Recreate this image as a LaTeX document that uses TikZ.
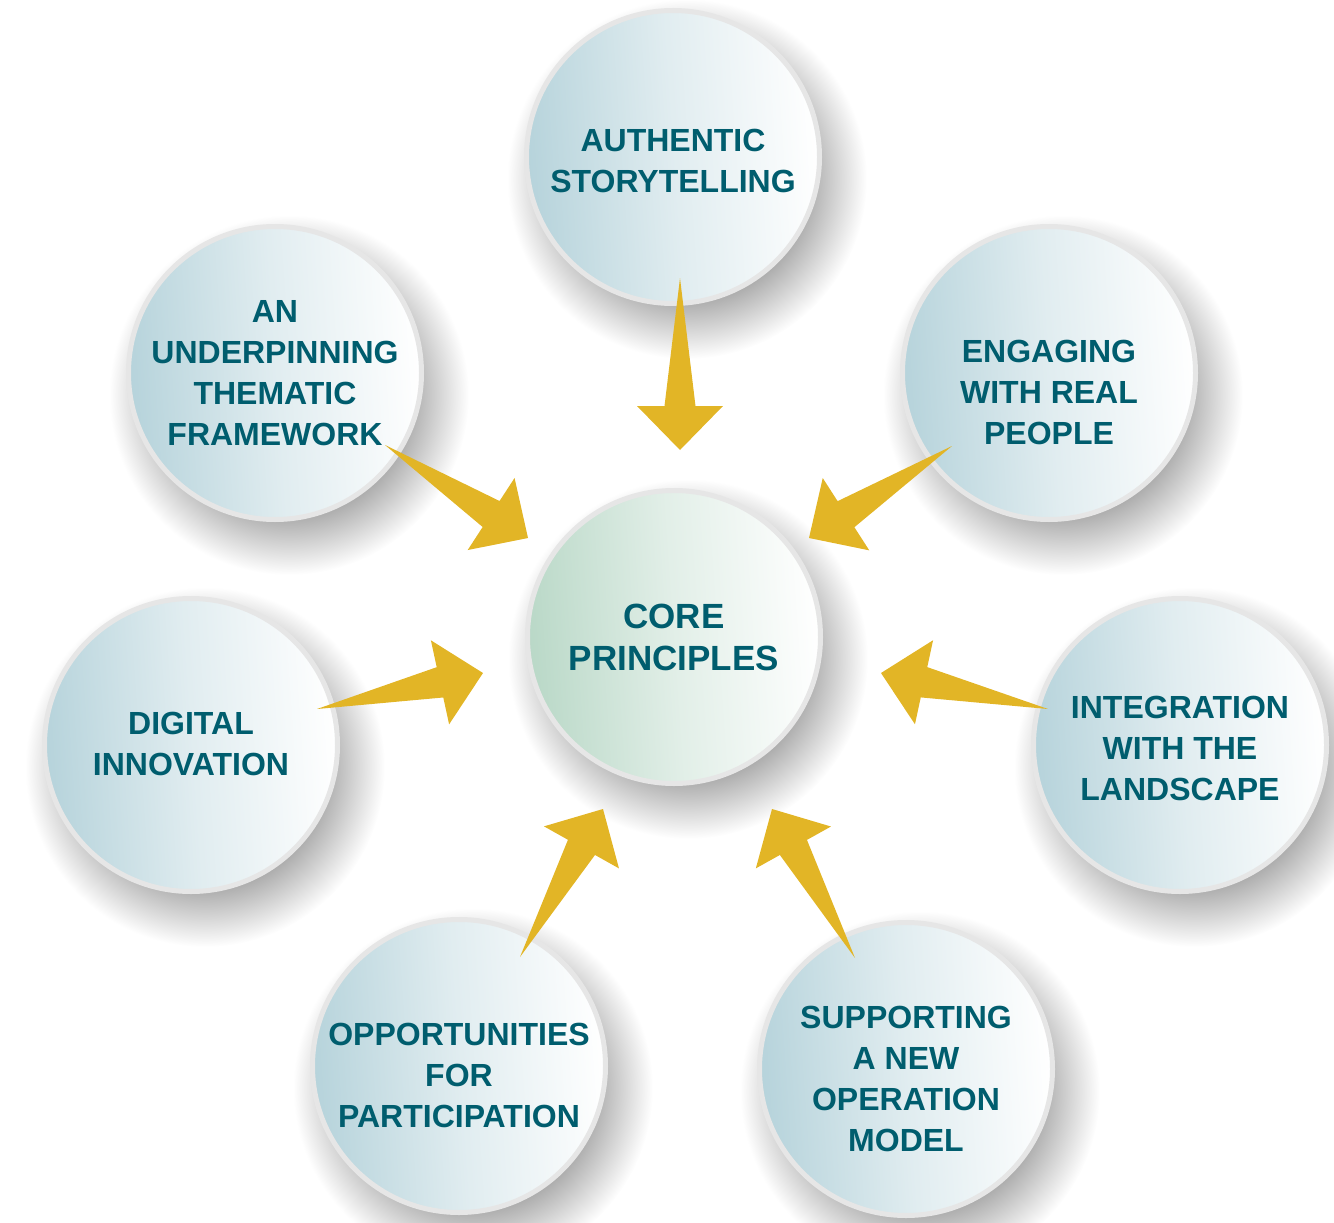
\documentclass[tikz,border=0pt]{standalone}
\usepackage{fontspec}
\setmainfont{Liberation Sans}
\usepackage{tikz}
\usetikzlibrary{calc}
\definecolor{cpteal}{HTML}{005D6E}
\definecolor{cpgold}{HTML}{E2B526}
\definecolor{cpring}{HTML}{E6E6E6}
\definecolor{cpblue}{HTML}{B6D3DB}
\definecolor{cpgreen}{HTML}{B9D8C7}
\pgfdeclareradialshading{cpshadow}{\pgfpoint{0bp}{0bp}}{color(0bp)=(black!32); color(17bp)=(black!32); color(25bp)=(white); color(50bp)=(white)}
\tikzset{
  bubble/.style={circle,draw=cpring,line width=5pt,minimum size=293pt,inner sep=0pt,top color=white,bottom color=cpblue,middle color=cpblue!42!white,shading angle=-86},
  corebub/.style={bubble,top color=white,bottom color=cpgreen,middle color=cpgreen!42!white,shading angle=-86},
  bubtxt/.style={font=\bfseries\fontsize{32}{41}\selectfont,text=cpteal,align=center,inner sep=0pt},
  coretxt/.style={font=\bfseries\fontsize{35}{42}\selectfont,text=cpteal,align=center},
  softshadow/.style={shading=cpshadow},
  gold/.style={fill=cpgold,draw=none},
}

\begin{document}
\begin{tikzpicture}[x=1pt,y=-1pt]
\useasboundingbox (0,0) rectangle (1334,1223);
% centre
\shade[softshadow] (688,659) circle (180pt);
\node[corebub,coretxt] (core) at (674,637) {CORE\\PRINCIPLES};
% outer ring
\foreach \n/\x/\y/\dy/\txt in {ast/673/157/-4/{AUTHENTIC\\STORYTELLING},
    eng/1049/373/-19/{ENGAGING\\WITH REAL\\PEOPLE},
    int/1180/745/-3/{INTEGRATION\\WITH THE\\LANDSCAPE},
    sup/906/1069/-10/{SUPPORTING\\A NEW\\OPERATION\\MODEL},
    opp/459/1066/-9/{OPPORTUNITIES\\FOR\\PARTICIPATION},
    dig/191/745/1/{DIGITAL\\INNOVATION},
    frm/275/373/0/{AN\\UNDERPINNING\\THEMATIC\\FRAMEWORK}} {
  \shade[softshadow] (\x+14,\y+22) circle (180pt);
  \node[bubble,label={[bubtxt,yshift=\dy pt]center:\txt}] (\n) at (\x,\y) {};
}
% arrows into the centre
\foreach \n/\tx/\ty/\hx/\hy in {ast/7/121/6/-187, eng/-97/73/135/-99, int/-132/-36/207/36,
    sup/-51/-111/98/172, opp/61/-109/-71/172, dig/126/-36/-191/36, frm/110/72/-146/-99} {
  \coordinate (\n-t) at ($(\n)+(\tx,\ty)$);
  \coordinate (\n-h) at ($(core)+(\hx,\hy)$);
  \coordinate (\n-b) at ($(\n-h)!44pt!(\n-t)$);
  \fill[gold] (\n-t) -- ($(\n-b)!15.5pt!90:(\n-h)$) -- ($(\n-b)!43pt!90:(\n-h)$) -- (\n-h)
    -- ($(\n-b)!43pt!-90:(\n-h)$) -- ($(\n-b)!15.5pt!-90:(\n-h)$) -- cycle;
}
\end{tikzpicture}
\end{document}
